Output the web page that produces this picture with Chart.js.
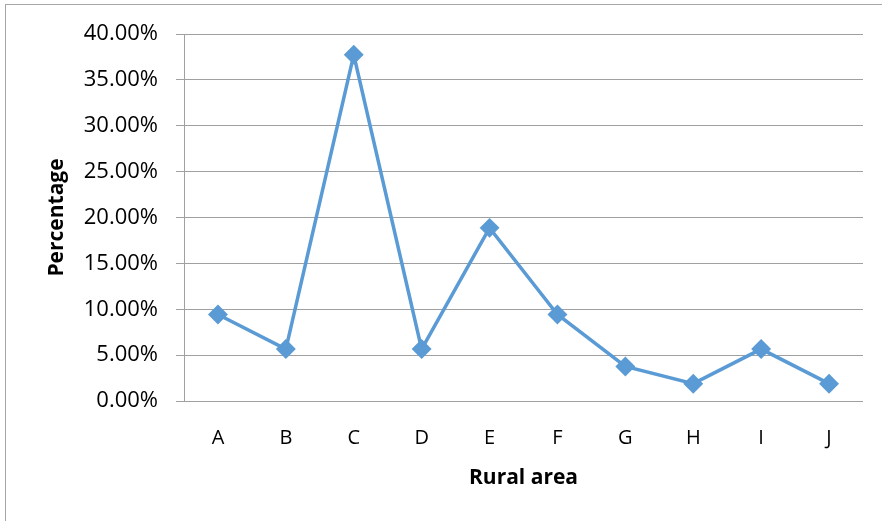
<!DOCTYPE html>
<html>
<head>
<meta charset="utf-8">
<script src="https://cdn.jsdelivr.net/npm/chart.js@4"></script>
<style>
  html, body { margin: 0; padding: 0; background: #fff; }
  #wrap { position: relative; width: 882px; height: 521px; }
  #frame { position: absolute; left: 5px; top: 4px; width: 900px; height: 600px; border: 1px solid #a6a6a6; box-sizing: border-box; }
  canvas { position: absolute; left: 0; top: 0; }
</style>
</head>
<body>
<div id="wrap">
  <div id="frame"></div>
  <canvas id="chart" width="882" height="521"></canvas>
</div>
<script>
// kategori wilayah pedesaan
const areas = ["A", "B", "C", "D", "E", "F", "G", "H", "I", "J"];
// persentase per wilayah
const percentages = [9.43, 5.66, 37.74, 5.66, 18.87, 9.43, 3.77, 1.89, 5.66, 1.89];
const yTicks = [0, 5, 10, 15, 20, 25, 30, 35, 40];

const fontFamily = "'Open Sans', sans-serif";
const lineColor = "#5b9bd5";
const gridColor = "#a0a0a0";

const ctx = document.getElementById("chart").getContext("2d");
new Chart(ctx, {
  type: "line",
  data: {
    labels: areas,
    datasets: [
      {
        data: percentages,
        borderColor: lineColor,
        backgroundColor: lineColor,
        borderWidth: 3.5,
        pointStyle: "rectRot",
        pointRadius: 7.5,
        pointHoverRadius: 7.5,
        pointBackgroundColor: lineColor,
        pointBorderColor: lineColor,
        tension: 0,
        fill: false,
      },
    ],
  },
  options: {
    responsive: false,
    animation: false,
    layout: { padding: { left: 0, top: 34, right: 19, bottom: 0 } },
    plugins: { legend: { display: false }, tooltip: { enabled: false } },
    scales: {
      x: {
        offset: true,
        grid: { display: false },
        border: { display: false },
        ticks: { color: "#000", padding: 17, font: { family: fontFamily, size: 20 } },
        title: {
          display: true,
          text: "Rural area",
          color: "#000",
          padding: { top: 0, bottom: 30 },
          font: { family: fontFamily, size: 21, weight: "bold" },
        },
        afterFit: (scale) => { scale.height = 120; },
      },
      y: {
        min: 0,
        max: 40,
        afterBuildTicks: (scale) => { scale.ticks = yTicks.map((v) => ({ value: v })); },
        grid: { color: gridColor, lineWidth: 1, tickLength: 8, drawTicks: true },
        border: { display: true, color: gridColor, width: 1 },
        ticks: {
          color: "#000",
          padding: 18,
          font: { family: fontFamily, size: 22 },
          callback: (v) => v.toFixed(2) + "%",
        },
        title: {
          display: true,
          text: "Percentage",
          color: "#000",
          padding: { top: 44, bottom: 0 },
          font: { family: fontFamily, size: 21, weight: "bold" },
        },
        afterFit: (scale) => { scale.width = 184; },
      },
    },
  },
});
</script>
</body>
</html>
